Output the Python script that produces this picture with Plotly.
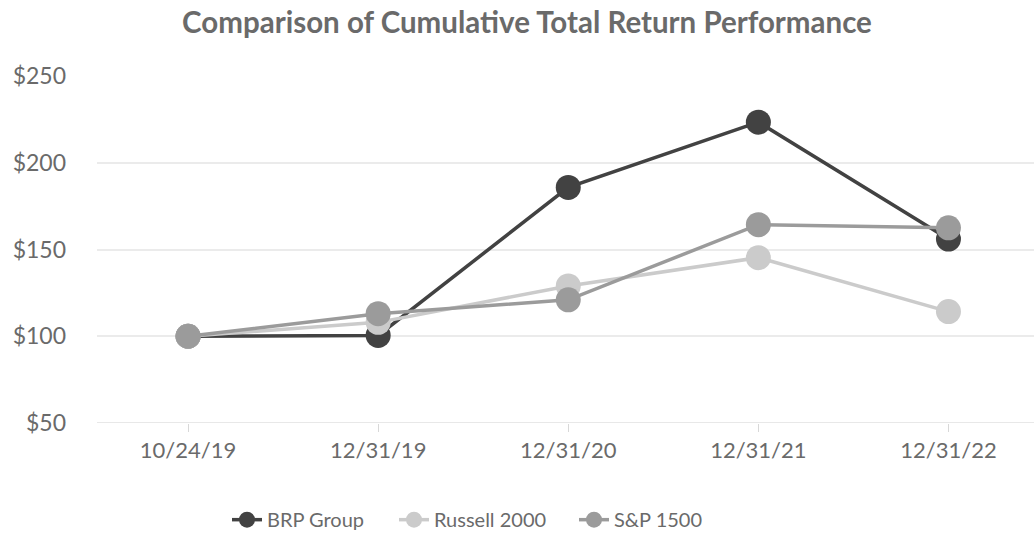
import plotly.graph_objects as go

dates = ["10/24/19", "12/31/19", "12/31/20", "12/31/21", "12/31/22"]
brp = [100, 100.5, 185.8, 223.4, 156]
russell = [100, 108, 129, 145.3, 114.2]
sp1500 = [100, 113, 121, 164.3, 162.5]
y_ticks = [50, 100, 150, 200, 250]
y_labels = ["$50", "$100", "$150", "$200", "$250"]

series = [("BRP Group", brp, "#424242", "legend"),
          ("Russell 2000", russell, "#cbcbcb", "legend2"),
          ("S&P 1500", sp1500, "#9b9b9b", "legend3")]

fig = go.Figure()
for name, vals, col, lg in series:
    fig.add_trace(go.Scatter(
        x=dates, y=vals, name=name, mode="lines+markers",
        line=dict(color=col, width=3.5),
        marker=dict(color=col, size=25),
        legend=lg,
    ))

font_family = "Lato, 'Open Sans', sans-serif"
leg_common = dict(orientation="h", xanchor="left", xref="container",
                  y=0.025, yanchor="middle", yref="container",
                  font=dict(size=20, color="#6a6a6a"),
                  bgcolor="rgba(0,0,0,0)")
fig.update_layout(
    width=1034, height=533,
    paper_bgcolor="white", plot_bgcolor="white",
    margin=dict(l=97, r=0, t=76, b=110, autoexpand=False),
    title=dict(text="<b>Comparison of Cumulative Total Return Performance</b>",
               x=527 / 1034, xanchor="center", y=0.958, yanchor="middle",
               xref="container",
               font=dict(family=font_family, size=29.5, color="#6a6a6a")),
    font=dict(family=font_family, color="#707070"),
    showlegend=True,
    legend=dict(x=(233 - 6) / 1034, **leg_common),
    legend2=dict(x=(400 - 6) / 1034, **leg_common),
    legend3=dict(x=(580 - 6) / 1034, **leg_common),
    xaxis=dict(type="category", range=[-0.479, 4.45], automargin=False,
               showgrid=False, zeroline=False, showline=False,
               ticks="outside", ticklen=8, tickcolor="#d8d8d8", tickwidth=1,
               tickfont=dict(size=22, color="#6a6a6a")),
    yaxis=dict(range=[50, 250], tickvals=y_ticks, ticktext=y_labels,
               automargin=False,
               showgrid=True, gridcolor="#ebebeb", gridwidth=1.5,
               zeroline=False, showline=False, ticks="",
               ticklabelstandoff=30,
               tickfont=dict(size=23, color="#6a6a6a")),
)
fig.add_hline(y=50, line=dict(color="#e0e0e0", width=1.5), layer="below")

fig.write_html("out.html",
               config={"displayModeBar": False},
               post_script="document.body.style.margin='0px';document.body.style.padding='0px';")
